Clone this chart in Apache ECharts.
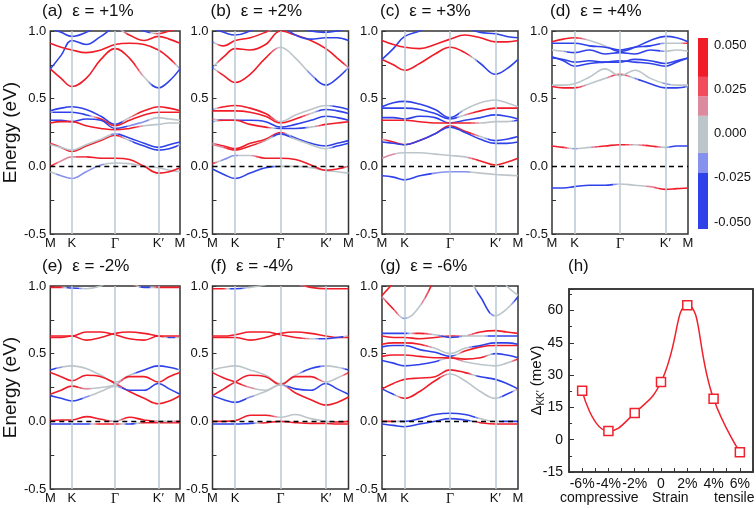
<!DOCTYPE html>
<html><head><meta charset="utf-8">
<script src="https://cdn.jsdelivr.net/npm/echarts@6/dist/echarts.min.js"></script>
<style>html,body{margin:0;padding:0;background:#fff}#c{width:756px;height:508px}</style>
</head><body><div id="c"></div>
<script>
// ---------- data ----------
const kpath = [0, 0.25, 0.5, 0.83, 1.17, 1.5, 1.83, 2.17, 2.5, 2.75, 3];
const kTickPos = [0, 0.5, 1.5, 2.5, 3];
const kTickLabels = ['M', 'K', 'Γ', 'K′', 'M'];
const spinCode = {R: 0.05, r: 0.03, p: 0.015, g: 0, l: -0.015, B: -0.05};
const panelTitles = ['(a)  ε = +1%', '(b)  ε = +2%', '(c)  ε = +3%', '(d)  ε = +4%', '(e)  ε = -2%', '(f)  ε = -4%', '(g)  ε = -6%'];

const energyA = [
  [-0.04,-0.07,-0.09,-0.04,0.01,0.025,0.02,0.0,-0.01,-0.03,-0.04],
  [0.0,0.04,0.07,0.07,0.06,0.06,0.05,0.0,-0.05,-0.04,-0.01],
  [0.17,0.14,0.11,0.15,0.19,0.23,0.19,0.15,0.12,0.13,0.16],
  [0.16,0.14,0.12,0.16,0.2,0.24,0.21,0.17,0.14,0.16,0.18],
  [0.41,0.43,0.44,0.42,0.37,0.31,0.36,0.41,0.44,0.43,0.41],
  [0.40,0.40,0.40,0.38,0.35,0.30,0.34,0.38,0.40,0.40,0.40],
  [0.34,0.34,0.33,0.35,0.34,0.28,0.30,0.33,0.36,0.35,0.34],
  [0.32,0.33,0.33,0.30,0.28,0.27,0.28,0.30,0.31,0.32,0.32],
  [0.72,0.65,0.59,0.65,0.79,0.87,0.8,0.66,0.58,0.63,0.72],
  [0.72,0.82,0.93,0.9,0.96,1.02,0.97,0.93,0.96,0.94,0.91],
  [0.91,0.88,0.86,0.84,0.86,0.9,0.91,0.9,0.86,0.8,0.72],
  [1.02,0.99,0.96,0.99,1.05,1.1,1.05,1.0,0.98,1.0,1.02]
];
const spinA = ['gllllgggggg','RpprRRRRRRR','pRRRRRlBBBg','ggggglBBBBB','BBBBBBpRRRR','gBBBRRRRRRR',
  'BBBBBBllggg','RRRRRRRgggg','RRRRRRRgBBB','BBBBBBRRRRR','RRRRRRRRRRB','BBBBBBBBRRR'];

const energyB = [
  [-0.02,-0.06,-0.09,-0.05,-0.01,0.0,0.0,-0.01,-0.03,-0.04,-0.05],
  [0.02,0.05,0.08,0.08,0.06,0.06,0.05,0.01,-0.03,-0.02,0.0],
  [0.17,0.15,0.13,0.17,0.2,0.25,0.21,0.17,0.15,0.17,0.19],
  [0.16,0.14,0.12,0.15,0.19,0.24,0.2,0.16,0.13,0.15,0.17],
  [0.42,0.44,0.45,0.43,0.39,0.33,0.38,0.42,0.45,0.44,0.42],
  [0.41,0.41,0.41,0.4,0.37,0.32,0.35,0.39,0.42,0.41,0.39],
  [0.35,0.34,0.34,0.34,0.33,0.29,0.31,0.34,0.37,0.36,0.34],
  [0.33,0.34,0.34,0.31,0.29,0.28,0.28,0.29,0.31,0.32,0.33],
  [0.73,0.67,0.62,0.68,0.8,0.88,0.8,0.68,0.6,0.65,0.73],
  [0.73,0.81,0.87,0.86,0.9,1.0,0.97,0.93,0.87,0.8,0.73],
  [0.92,0.89,0.93,0.95,0.99,1.03,0.97,0.94,0.95,0.95,0.93],
  [1.02,0.99,0.97,1.0,1.05,1.1,1.04,1.0,0.99,1.0,1.02]
];
const spinB = ['BBBBBgggggg','RllgRRRRRRg','gRRRRRBBBBB','ppRRpBgggBB','BRRRRggggBB','RRRRRRRgBBB',
  'RBBBBBBBBBB','BRRRRBBgRRR','BRRRRgglBBg','BRRRRRRRRRg','BRRRRBBBBBB','BBBBBBBBBBB'];

const energyC = [
  [-0.07,-0.08,-0.1,-0.07,-0.05,-0.04,-0.04,-0.05,-0.06,-0.065,-0.07],
  [0.06,0.09,0.1,0.1,0.09,0.08,0.07,0.04,0.01,0.03,0.06],
  [0.2,0.18,0.16,0.19,0.24,0.3,0.26,0.22,0.19,0.2,0.22],
  [0.18,0.17,0.16,0.19,0.24,0.29,0.25,0.2,0.17,0.17,0.18],
  [0.44,0.47,0.48,0.46,0.42,0.36,0.42,0.47,0.49,0.47,0.44],
  [0.43,0.43,0.43,0.42,0.39,0.35,0.38,0.41,0.43,0.43,0.43],
  [0.36,0.36,0.35,0.37,0.36,0.32,0.34,0.36,0.38,0.37,0.35],
  [0.34,0.34,0.34,0.33,0.32,0.32,0.32,0.32,0.33,0.33,0.34],
  [0.79,0.75,0.71,0.76,0.83,0.88,0.84,0.76,0.68,0.72,0.79],
  [0.79,0.87,0.96,1.0,1.05,1.08,1.03,0.99,0.98,0.96,0.95],
  [0.93,0.9,0.88,0.87,0.9,0.94,0.97,0.95,0.92,0.92,0.93]
];
const spinC = ['BBBBlllgggg','ppgggggRRRR','gRRRRRRgBBB','BBBBBBBBBBB','BBBBBBggggg','BBBBBBpRRRR',
  'BBBBBBBBBBB','RRRRRRRgggB','RRRRRRRBBBB','BBBBBBBBBBB','RRRRRRRRRRR'];

const energyD = [
  [-0.16,-0.16,-0.15,-0.14,-0.14,-0.13,-0.14,-0.15,-0.17,-0.165,-0.16],
  [0.15,0.14,0.13,0.14,0.15,0.16,0.16,0.15,0.14,0.15,0.15],
  [0.59,0.58,0.58,0.61,0.65,0.68,0.65,0.61,0.58,0.58,0.59],
  [0.6,0.6,0.61,0.66,0.72,0.67,0.71,0.65,0.61,0.6,0.6],
  [0.81,0.78,0.74,0.76,0.77,0.78,0.77,0.76,0.74,0.77,0.8],
  [0.8,0.79,0.77,0.78,0.77,0.77,0.79,0.78,0.76,0.78,0.8],
  [0.86,0.85,0.84,0.86,0.83,0.84,0.83,0.86,0.85,0.86,0.85],
  [0.92,0.94,0.95,0.93,0.89,0.85,0.88,0.93,0.96,0.95,0.92],
  [0.91,0.91,0.91,0.89,0.88,0.86,0.88,0.89,0.91,0.91,0.91]
];
const spinD = ['BBBBBggpRRR','RRlgRRgRlBB','RRRggRlBBBg','gggggggglgg','BBBBBBBBBBB','BBBBBBBBBBB',
  'ggBBBBBBggg','RRRggBBBBBB','BBBBBBBBggR'];

const energyE = [
  [-0.02,-0.02,-0.02,-0.02,-0.02,-0.02,-0.02,-0.01,-0.01,-0.01,-0.01],
  [0.005,0.01,0.01,0.035,0.015,0.0,0.03,0.01,0.0,0.0,0.0],
  [0.38,0.4,0.41,0.39,0.34,0.29,0.34,0.38,0.41,0.4,0.38],
  [0.36,0.33,0.30,0.34,0.33,0.28,0.22,0.17,0.13,0.15,0.19],
  [0.2,0.23,0.26,0.24,0.25,0.27,0.33,0.33,0.29,0.33,0.36],
  [0.19,0.17,0.15,0.18,0.22,0.26,0.23,0.23,0.28,0.24,0.2],
  [0.62,0.62,0.63,0.6,0.62,0.65,0.66,0.65,0.63,0.62,0.62],
  [0.63,0.63,0.63,0.66,0.66,0.64,0.61,0.6,0.63,0.63,0.63],
  [0.99,0.99,0.985,0.98,1.0,1.05,1.02,0.99,0.99,0.99,0.99]
];
const spinE = ['BBBBRRBRRRR','RRRRRgRRggR','BlgggggBBBg','RRRRRRRRRRR','RRRpggRRRRR','BBBlggBBBBB',
  'RRRRRRRRRBR','RRRRRRRRRRR','RRBggRRBRRR'];

const energyF = [
  [-0.02,-0.02,-0.02,-0.015,-0.01,0.0,-0.01,-0.015,-0.015,-0.02,-0.02],
  [0.0,0.0,0.005,0.045,0.045,0.03,0.05,0.02,0.0,-0.005,0.0],
  [0.38,0.4,0.41,0.38,0.34,0.28,0.34,0.39,0.41,0.4,0.38],
  [0.36,0.32,0.29,0.25,0.23,0.27,0.21,0.16,0.12,0.14,0.18],
  [0.19,0.24,0.29,0.34,0.33,0.27,0.33,0.33,0.29,0.32,0.36],
  [0.19,0.16,0.14,0.18,0.22,0.27,0.24,0.23,0.28,0.24,0.2],
  [0.62,0.62,0.62,0.6,0.62,0.65,0.66,0.65,0.63,0.62,0.62],
  [0.63,0.63,0.64,0.66,0.66,0.64,0.62,0.61,0.61,0.62,0.63],
  [0.98,0.98,0.98,0.99,1.01,1.05,1.02,0.99,0.98,0.98,0.98]
];
const spinF = ['BBBBRRRRRRR','RRRRRggggRR','gggggggBggB','RRRpggRRRRR','RRRRRRRRggR','BBBlggBBBBB',
  'RRRRRRRRRRR','RRRRRRRgBBR','RRBggggRRRR'];

const energyG = [
  [-0.02,-0.03,-0.04,-0.02,0.0,0.02,0.01,-0.01,-0.02,-0.02,-0.02],
  [0.0,0.0,0.0,0.02,0.05,0.06,0.05,0.02,0.0,0.0,0.0],
  [0.24,0.2,0.17,0.22,0.3,0.35,0.3,0.22,0.17,0.2,0.24],
  [0.24,0.28,0.31,0.32,0.33,0.38,0.36,0.33,0.31,0.28,0.24],
  [0.45,0.43,0.41,0.42,0.44,0.47,0.44,0.42,0.41,0.43,0.46],
  [0.48,0.49,0.49,0.48,0.47,0.47,0.46,0.47,0.5,0.49,0.47],
  [0.55,0.56,0.56,0.53,0.51,0.48,0.52,0.55,0.56,0.56,0.56],
  [0.57,0.58,0.58,0.57,0.54,0.5,0.54,0.56,0.58,0.58,0.57],
  [0.63,0.62,0.62,0.61,0.62,0.63,0.63,0.63,0.63,0.63,0.63],
  [0.65,0.65,0.65,0.65,0.64,0.62,0.63,0.66,0.67,0.66,0.65],
  [0.92,0.83,0.76,0.85,1.05,1.2,1.1,0.92,0.78,0.83,0.92],
  [0.93,1.02,1.1,1.2,1.3,1.3,1.3,1.2,1.1,1.0,0.93]
];
const spinG = ['BBBBBBBRRRR','RRBBBBBggBB','BBRRRggggBR','RRRRRRRBBBB','BBBBBRggggR','RRRRRRRRBBB',
  'BBBBBBRRRRR','RRRRgggBBBB','RRRRRRggBBB','BBBRgBgRRRR','gRlgRRRBggB','RRRRRRRRBgg'];

const strainPct = [-6, -4, -2, 0, 2, 4, 6];
const deltaKK = [22.7, 4.0, 12.4, 26.8, 62.5, 19.0, -5.8];

const cbLabels = [-0.05, -0.025, 0, 0.025, 0.05];
const cbEdges = [-0.054, -0.022, -0.011, 0.010, 0.021, 0.032, 0.054];

// ---------- styles ----------
const pieceColors = ['#2f42ea', '#8591ec', '#bcc5c9', '#dc8aa0', '#f04c5c', '#f01c28'];
const FONT = 'Liberation Sans, Arial, sans-serif';
const panelPos = [[44,31],[212.5,31],[382,31],[552,31],[44,286],[212.5,286],[382,286]];
const PW = 136, PH = 203;

function pieceColor(v) {
  for (let i = 0; i < pieceColors.length; i++) {
    if (v < cbEdges[i + 1]) return pieceColors[i];
  }
  return pieceColors[pieceColors.length - 1];
}
function spinAt(S, t) {
  const v = S.split('').map(c => spinCode[c]);
  for (let i = 0; i < kpath.length - 1; i++) {
    if (t <= kpath[i + 1]) {
      const f = (t - kpath[i]) / (kpath[i + 1] - kpath[i]);
      return v[i] + (v[i + 1] - v[i]) * f;
    }
  }
  return v[v.length - 1];
}
function bandGradient(S) {
  const stops = [], N = 150;
  for (let j = 0; j <= N; j++) stops.push({offset: j / N, color: pieceColor(spinAt(S, 3 * j / N))});
  return new echarts.graphic.LinearGradient(0, 0, 1, 0, stops);
}

const energies = [energyA, energyB, energyC, energyD, energyE, energyF, energyG];
const spins = [spinA, spinB, spinC, spinD, spinE, spinF, spinG];
const titleStyle = {fontSize: 17, fontWeight: 'normal', color: '#111', fontFamily: FONT};

const grid = [], xAxis = [], yAxis = [], series = [], title = [];
panelPos.forEach((p, i) => {
  grid.push({left: p[0], top: p[1], width: PW, height: PH, show: true, borderColor: '#333', borderWidth: 1.5, backgroundColor: 'transparent'});
  xAxis.push({type: 'value', gridIndex: i, min: 0, max: 3,
    axisLine: {show: false}, axisTick: {show: false}, splitLine: {show: false},
    axisLabel: {customValues: kTickPos, fontSize: 13, color: '#111', margin: 3,
      formatter: v => { const k = kTickPos.indexOf(v); const s = kTickLabels[k] || ''; return s === 'Γ' ? '{s|Γ}' : s; },
      rich: {s: {fontFamily: 'Liberation Serif, serif', fontSize: 14, color: '#111'}}}});
  yAxis.push({type: 'value', gridIndex: i, min: -0.5, max: 1.0, interval: 0.25,
    axisLine: {show: false}, splitLine: {show: false},
    axisTick: {show: true, inside: true, length: 4, lineStyle: {color: '#333'}},
    axisLabel: {fontSize: 13, color: '#111', margin: 4,
      formatter: v => Math.abs(v * 2 - Math.round(v * 2)) < 1e-6 ? v.toFixed(1) : ''},
    name: (i === 0 || i === 4) ? 'Energy (eV)' : '', nameLocation: 'middle', nameGap: 27,
    nameTextStyle: {fontSize: 19, color: '#111'}});
  title.push({text: panelTitles[i], left: p[0] - 2, top: p[1] - 28, padding: 0, textStyle: titleStyle});
  series.push({type: 'line', xAxisIndex: i, yAxisIndex: i, data: [], z: 1, silent: true,
    markLine: {symbol: 'none', silent: true, animation: false, label: {show: false},
      lineStyle: {color: '#b9c9d4', width: 1.5, type: 'solid'},
      data: [{xAxis: 0.5}, {xAxis: 1.5}, {xAxis: 2.5}]}});
  energies[i].forEach((E, b) => {
    series.push({type: 'line', xAxisIndex: i, yAxisIndex: i, z: 3, silent: true,
      data: kpath.map((x, j) => [x, E[j]]), smooth: 0.4, showSymbol: false,
      lineStyle: {width: 1.6, color: bandGradient(spins[i][b])}});
  });
  series.push({type: 'line', xAxisIndex: i, yAxisIndex: i, data: [], z: 5, silent: true,
    markLine: {symbol: 'none', silent: true, animation: false, label: {show: false},
      lineStyle: {color: '#000', width: 1.3, type: [5, 4]},
      data: [{yAxis: 0}]}});
});

// colorbar (grid 7)
grid.push({left: 698, top: 38, width: 10, height: 191});
xAxis.push({type: 'value', gridIndex: 7, min: 0, max: 1, show: false});
yAxis.push({type: 'value', gridIndex: 7, min: -0.054, max: 0.054, position: 'right',
  axisLine: {show: false}, axisTick: {show: false}, splitLine: {show: false},
  axisLabel: {customValues: cbLabels, formatter: v => v.toFixed(3), fontSize: 13, color: '#111', margin: 6}});
series.push({type: 'custom', xAxisIndex: 7, yAxisIndex: 7, silent: true,
  data: cbEdges.slice(0, -1).map((lo, i) => [lo, cbEdges[i + 1], i]),
  renderItem: (params, api) => {
    const p1 = api.coord([0, api.value(1)]);
    const p2 = api.coord([1, api.value(0)]);
    return {type: 'rect', shape: {x: p1[0], y: p1[1], width: p2[0] - p1[0], height: p2[1] - p1[1]},
      style: {fill: pieceColors[api.value(2)]}};
  }});

// panel (h) (grid 8)
const frameLine = {show: true, onZero: false, lineStyle: {color: '#333', width: 1.5}};
grid.push({left: 569, top: 289, width: 184, height: 183, show: true, borderColor: '#333', borderWidth: 1.5, backgroundColor: 'transparent'});
xAxis.push({type: 'value', gridIndex: 8, min: -7, max: 7, interval: 1, position: 'bottom',
  axisLine: frameLine, splitLine: {show: false},
  axisTick: {show: true, inside: true, length: 4, lineStyle: {color: '#333', width: 1}},
  axisLabel: {customValues: strainPct, fontSize: 14, color: '#111', margin: 5,
    formatter: v => v === 0 ? '0' : v + '%'}});
yAxis.push({type: 'value', gridIndex: 8, min: -15, max: 70, interval: 15, position: 'left',
  axisLine: frameLine, splitLine: {show: false},
  axisTick: {show: true, inside: true, length: 5, lineStyle: {color: '#333', width: 1}},
  minorTick: {show: true, splitNumber: 2, length: 3, lineStyle: {color: '#333'}},
  axisLabel: {fontSize: 14, color: '#111', margin: 6, showMaxLabel: false},
  name: '{n|Δ}{s|KK′}{n| (meV)}', nameLocation: 'middle', nameGap: 23, nameMoveOverlap: false,
  nameTextStyle: {rich: {n: {fontSize: 15, color: '#111'}, s: {fontSize: 10, color: '#111', verticalAlign: 'bottom', padding: [8, 0, 0, 0]}}}});
// top / right frame edges of (h)
xAxis.push({type: 'value', gridIndex: 8, min: -7, max: 7, position: 'top',
  axisLine: frameLine, axisTick: {show: false}, axisLabel: {show: false}, splitLine: {show: false}});
yAxis.push({type: 'value', gridIndex: 8, min: -15, max: 70, position: 'right',
  axisLine: frameLine, axisTick: {show: false}, axisLabel: {show: false}, splitLine: {show: false}});
series.push({type: 'line', xAxisIndex: 8, yAxisIndex: 8, z: 3, silent: true,
  data: strainPct.map((s, i) => [s, deltaKK[i]]), smooth: 0.5,
  symbol: 'rect', symbolSize: 9, showSymbol: true,
  itemStyle: {color: '#fff', borderColor: '#f0202c', borderWidth: 1.5},
  lineStyle: {color: '#f0202c', width: 1.5}});
title.push({text: '(h)', left: 568, top: 258, padding: 0, textStyle: titleStyle});

const chart = echarts.init(document.getElementById('c'), null, {renderer: 'canvas'});
chart.setOption({
  animation: false,
  backgroundColor: '#fff',
  textStyle: {fontFamily: FONT},
  title, grid, xAxis, yAxis, series,
  graphic: [
    {type: 'text', left: 560, top: 491, style: {text: 'compressive', font: '14px Liberation Sans', fill: '#111'}},
    {type: 'text', left: 652, top: 491, style: {text: 'Strain', font: '14px Liberation Sans', fill: '#111'}},
    {type: 'text', left: 714, top: 491, style: {text: 'tensile', font: '14px Liberation Sans', fill: '#111'}}
  ]
});
</script></body></html>
